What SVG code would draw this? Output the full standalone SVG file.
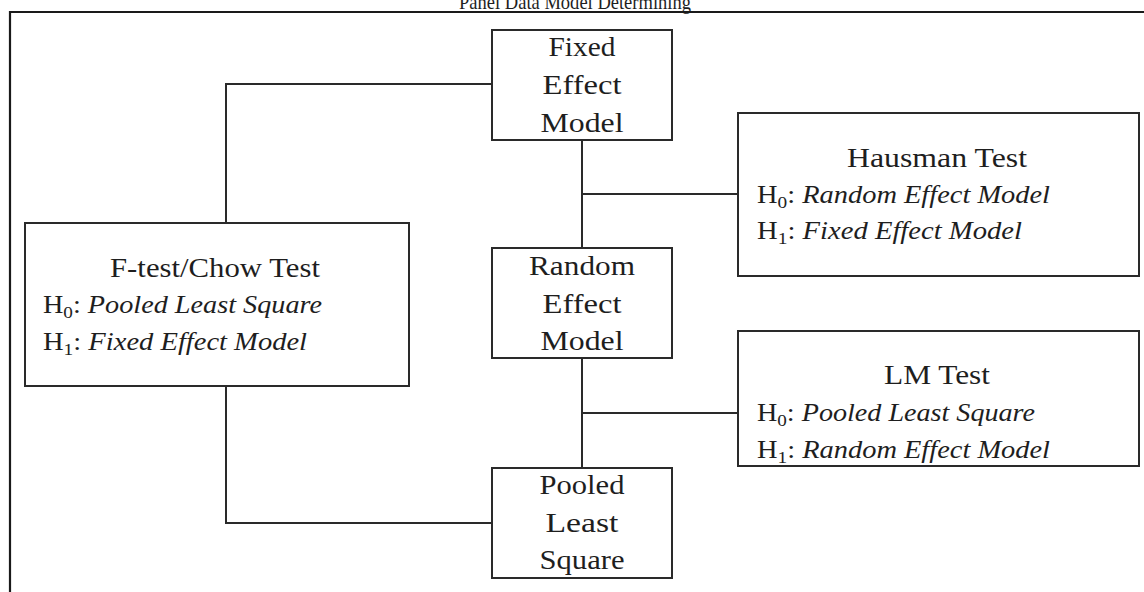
<svg xmlns="http://www.w3.org/2000/svg" width="1144" height="592" viewBox="0 0 1144 592">
<style>
.frame{fill:none;stroke:#1a1a1a;stroke-width:2.2}
.box{fill:#fff;stroke:#2a2a2a;stroke-width:2}
.conn{fill:none;stroke:#2a2a2a;stroke-width:2}
.t{font-family:"Liberation Serif","Times New Roman",serif;fill:#1e1e1e}
.lbl{font-size:27px;text-anchor:middle}
.hd{font-size:27px;text-anchor:middle}
.hy{font-size:25px}
.it{font-style:italic}
.sub{font-size:17px}
</style>
<rect width="1144" height="592" fill="#fff"/>
<text class="t" x="575" y="9" font-size="21" text-anchor="middle" textLength="232" lengthAdjust="spacingAndGlyphs">Panel Data Model Determining</text>
<path class="frame" d="M10 592 V12 H1144"/>
<g id="connectors">
<path class="conn" d="M492 84 H226 V223"/>
<path class="conn" d="M226 386 V523 H492"/>
<path class="conn" d="M582 140 V248"/>
<path class="conn" d="M582 194 H738"/>
<path class="conn" d="M582 358 V468"/>
<path class="conn" d="M582 413 H738"/>
</g>
<g id="fixed">
<rect class="box" x="492" y="30" width="180" height="110"/>
<text class="t lbl" x="582" y="56" textLength="67" lengthAdjust="spacingAndGlyphs">Fixed</text>
<text class="t lbl" x="582" y="94" textLength="79" lengthAdjust="spacingAndGlyphs">Effect</text>
<text class="t lbl" x="582" y="132" textLength="83" lengthAdjust="spacingAndGlyphs">Model</text>
</g>
<g id="random">
<rect class="box" x="492" y="248" width="180" height="110"/>
<text class="t lbl" x="582" y="275" textLength="106" lengthAdjust="spacingAndGlyphs">Random</text>
<text class="t lbl" x="582" y="313" textLength="79" lengthAdjust="spacingAndGlyphs">Effect</text>
<text class="t lbl" x="582" y="350" textLength="83" lengthAdjust="spacingAndGlyphs">Model</text>
</g>
<g id="pooled">
<rect class="box" x="492" y="468" width="180" height="110"/>
<text class="t lbl" x="582" y="494" textLength="85" lengthAdjust="spacingAndGlyphs">Pooled</text>
<text class="t lbl" x="582" y="532" textLength="73" lengthAdjust="spacingAndGlyphs">Least</text>
<text class="t lbl" x="582" y="569" textLength="85" lengthAdjust="spacingAndGlyphs">Square</text>
</g>
<g id="ftest">
<rect class="box" x="25" y="223" width="384" height="163"/>
<text class="t hd" x="215" y="277" textLength="210" lengthAdjust="spacingAndGlyphs">F-test/Chow Test</text>
<text class="t hy" x="43" y="313" textLength="279" lengthAdjust="spacingAndGlyphs">H<tspan class="sub" dy="5">0</tspan><tspan dy="-5">: </tspan><tspan class="it">Pooled Least Square</tspan></text>
<text class="t hy" x="43" y="350" textLength="264" lengthAdjust="spacingAndGlyphs">H<tspan class="sub" dy="5">1</tspan><tspan dy="-5">: </tspan><tspan class="it">Fixed Effect Model</tspan></text>
</g>
<g id="hausman">
<rect class="box" x="738" y="113" width="401" height="163"/>
<text class="t hd" x="937" y="167" textLength="180" lengthAdjust="spacingAndGlyphs">Hausman Test</text>
<text class="t hy" x="757" y="203" textLength="293" lengthAdjust="spacingAndGlyphs">H<tspan class="sub" dy="5">0</tspan><tspan dy="-5">: </tspan><tspan class="it">Random Effect Model</tspan></text>
<text class="t hy" x="757" y="239" textLength="265" lengthAdjust="spacingAndGlyphs">H<tspan class="sub" dy="5">1</tspan><tspan dy="-5">: </tspan><tspan class="it">Fixed Effect Model</tspan></text>
</g>
<g id="lm">
<rect class="box" x="738" y="331" width="401" height="135"/>
<text class="t hd" x="937" y="384" textLength="106" lengthAdjust="spacingAndGlyphs">LM Test</text>
<text class="t hy" x="757" y="421" textLength="278" lengthAdjust="spacingAndGlyphs">H<tspan class="sub" dy="5">0</tspan><tspan dy="-5">: </tspan><tspan class="it">Pooled Least Square</tspan></text>
<text class="t hy" x="757" y="458" textLength="293" lengthAdjust="spacingAndGlyphs">H<tspan class="sub" dy="5">1</tspan><tspan dy="-5">: </tspan><tspan class="it">Random Effect Model</tspan></text>
</g>
</svg>
